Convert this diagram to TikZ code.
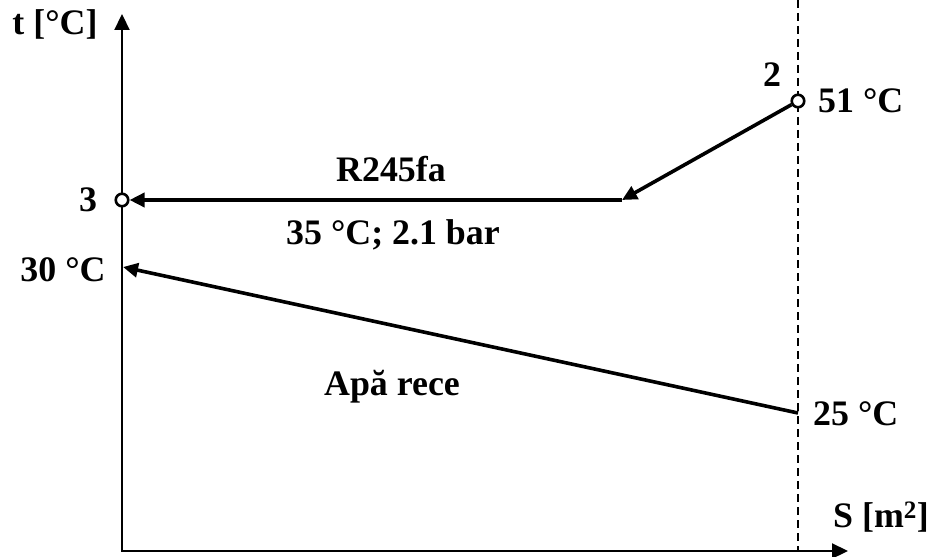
\documentclass[tikz,border=0pt]{standalone}
\usepackage{fontspec}
\setmainfont{Liberation Serif}
\usetikzlibrary{arrows.meta}
\begin{document}
\begin{tikzpicture}[x=1bp,y=-1bp,
  lbl/.style={font=\fontsize{36}{40}\selectfont\bfseries, inner sep=0pt},
  axarrow/.style={line width=2.2bp, -{Triangle[length=16bp,width=15bp]}},
  flarrow/.style={line width=3.6bp, -{Triangle[length=15bp,width=14bp]}},
  pt/.style={circle, draw, line width=2.6bp, fill=white, minimum size=12.5bp, inner sep=0pt},
  guide/.style={line width=1.4bp, dash pattern=on 8bp off 5bp}]
\useasboundingbox (0,0) rectangle (933,557);
% axes
\coordinate (O) at (122,551);
\coordinate (ytip) at (122,14);
\coordinate (xtip) at (848,551);
\coordinate (dtop) at (798,0);
\coordinate (dbot) at (798,551);
\draw[guide] (dtop) -- (dbot);
\draw[axarrow] ([yshift=1bp]O) -- (ytip);
\draw[axarrow] ([xshift=-1bp]O) -- (xtip);
% refrigerant
\coordinate (corner) at (622,200);
\node[pt] (p2) at (798,101) {};
\node[pt] (p3) at (122,200) {};
\draw[flarrow] (p2) -- (corner);
\draw[flarrow] (corner) -- (p3);
% water
\coordinate (w1) at (798,413);
\coordinate (w2) at (123,267);
\draw[flarrow] (w1) -- (w2);
% labels
\node[lbl, anchor=base] (tl) at (55,35) {t [°C]};
\node[lbl, anchor=base] (l2) at (772,87) {2};
\node[lbl, anchor=base west] (t51) at (818,113) {51 °C};
\node[lbl, anchor=base] (l3) at (88,212) {3};
\node[lbl, anchor=base] (t30) at (63,282) {30 °C};
\node[lbl, anchor=base] (r245) at (391,182) {R245fa};
\node[lbl, anchor=base] (t35) at (393,245) {35 °C; 2.1 bar};
\node[lbl, anchor=base] (apa) at (392,395) {Apă rece};
\node[lbl, anchor=base west] (t25) at (813,425) {25 °C};
\node[lbl, anchor=base west] (sl) at (833,527) {S [m\textsuperscript{2}]};
\end{tikzpicture}
\end{document}
